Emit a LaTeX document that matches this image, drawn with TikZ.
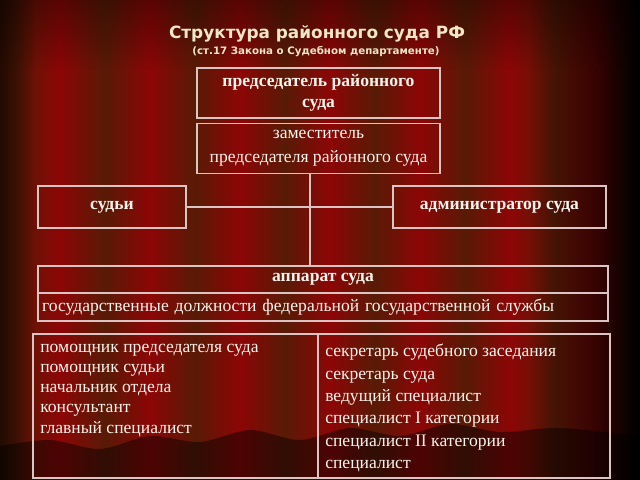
\documentclass[tikz,border=0pt]{standalone}
\usepackage{fontspec}
\setmainfont{Liberation Serif}
\newfontfamily\headfont{DejaVu Sans}
\usetikzlibrary{positioning,fadings}
\definecolor{curtainred}{RGB}{140,6,6}
\definecolor{curtaindark}{RGB}{88,26,6}
\definecolor{framecol}{RGB}{218,196,196}
\definecolor{papercol}{RGB}{250,244,236}
\definecolor{headcol}{RGB}{243,230,196}
\tikzfading[name=fadeeast, left color=transparent!100, right color=transparent!0]
\tikzfading[name=fadewest, left color=transparent!0, right color=transparent!100]
\tikzfading[name=fadenorth, top color=transparent!0, bottom color=transparent!100]

\begin{document}
\begin{tikzpicture}[x=0.025cm, y=-0.025cm,
    box/.style={draw=framecol, line width=0.9pt, text=papercol, align=center,
        inner sep=2pt, font=\fontsize{12.5}{15}\selectfont},
    boldbox/.style={box, font=\fontsize{12.5}{15}\selectfont\bfseries},
    listtext/.style={text=papercol, align=left, anchor=north west, inner sep=0pt},
    link/.style={draw=framecol, line width=0.9pt}]
    \useasboundingbox (0,0) rectangle (640,480);

    % Curtain
    \fill[curtaindark] (0,0) rectangle (640,480);
    \foreach \sx in {15,105,...,555}
        \shade[left color=curtaindark, right color=curtaindark, middle color=curtainred]
            (\sx,0) rectangle ++(90,480);
    \fill[black, opacity=0.35, path fading=fadenorth] (0,0) rectangle (640,70);
    \fill[black, path fading=fadeeast] (530,0) rectangle (640,480);
    \fill[black, opacity=0.6, path fading=fadewest] (0,0) rectangle (35,480);
    \fill[black, opacity=0.45] plot[smooth] coordinates {(0,446) (50,440) (100,449)
        (150,436) (200,442) (250,430) (300,440) (350,428) (400,436) (450,424)
        (500,432) (560,428) (640,436)} -- (640,480) -- (0,480) -- cycle;

    % Heading
    \node[text=headcol, font=\headfont\fontsize{12}{14}\selectfont\bfseries] (title)
        at (317,34) {Структура районного суда РФ};
    \node[text=headcol, font=\headfont\fontsize{7.3}{9}\selectfont\bfseries] (subtitle)
        at (316,52) {(ст.17 Закона о Судебном департаменте)};

    % Boxes
    \node[boldbox, minimum width=6.075cm, minimum height=1.25cm] (chair)
        at (318.5,93) {председатель районного\\суда};
    \node[box, minimum width=6.075cm, minimum height=1.25cm,
        font=\fontsize{12.5}{17}\selectfont] (deputy)
        at (318.5,148.5) {заместитель\\председателя районного суда};
    \node[boldbox, minimum width=3.7cm, minimum height=1.05cm] (judges)
        at (112,207) {судьи};
    \node[boldbox, minimum width=5.325cm, minimum height=1.05cm] (admin)
        at (499.5,207) {администратор суда};
    \node[boldbox, minimum width=14.25cm, minimum height=0.675cm] (staff)
        at (323,279.5) {аппарат суда};
    \node[box, minimum width=14.25cm, minimum height=0.7cm, inner xsep=3pt,
        text width=14.25cm-6pt, align=left] (posts)
        at (323,307) {государственные должности федеральной государственной службы};
    \node[box, minimum width=7.125cm, minimum height=3.6cm] (leftbox) at (175.5,406) {};
    \node[box, minimum width=7.3cm, minimum height=3.6cm] (rightbox) at (464,406) {};

    \node[listtext, font=\fontsize{12.5}{14.3}\selectfont] (leftlist) at (40,344)
        {помощник председателя суда\\помощник судьи\\начальник отдела\\консультант\\главный специалист};
    \node[listtext, font=\fontsize{12.5}{15.9}\selectfont] (rightlist) at (325,344)
        {секретарь судебного заседания\\секретарь суда\\ведущий специалист\\специалист I категории\\специалист II категории\\специалист};

    % Connectors
    \coordinate (spine) at (310,0);
    \draw[link] (deputy.south -| spine) -- (staff.north -| spine);
    \draw[link] (judges.east) -- (admin.west);
\end{tikzpicture}
\end{document}
